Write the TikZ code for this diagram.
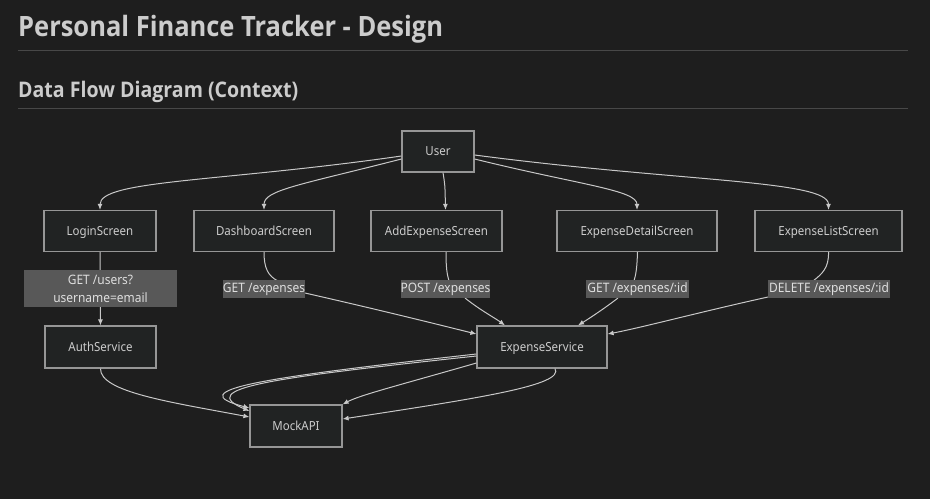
\documentclass[tikz,border=0pt]{standalone}
\usepackage{fontspec}
\setmainfont{Noto Sans}[FakeStretch=0.92]
\newfontfamily\headfont{Open Sans}[FakeStretch=0.91]
\usetikzlibrary{arrows.meta,positioning}
\definecolor{pfbg}{RGB}{30,30,30}
\definecolor{pfbox}{RGB}{33,35,35}
\definecolor{pfborder}{RGB}{150,150,150}
\definecolor{pfline}{RGB}{200,200,200}
\definecolor{pflabel}{RGB}{88,88,88}
\definecolor{pftext}{RGB}{204,204,204}
\definecolor{pflabeltext}{RGB}{222,222,222}
\definecolor{pfrule}{RGB}{72,72,72}
\tikzstyle{screen} = [rectangle, minimum height=41pt, inner sep=0pt, text height=8pt, text depth=0pt, text centered, draw=pfborder, fill=pfbox, line width=1.2pt, text=pftext, font=\fontsize{12.5}{14}\selectfont]
\tikzstyle{req} = [rectangle, minimum height=18pt, inner sep=0pt, text centered, fill=pflabel, text=pflabeltext, font=\fontsize{13}{18}\selectfont]
\tikzstyle{flow} = [draw=pfline, line width=1pt, -{Latex[length=6pt,width=5pt]}]
\tikzstyle{flowpart} = [draw=pfline, line width=1pt]

\begin{document}
\begin{tikzpicture}[x=1pt,y=-1pt]
\fill[pfbg] (0,0) rectangle (930,499);
\useasboundingbox (0,0) rectangle (930,499);

% Headings
\node[anchor=base west, inner sep=0pt, text=pftext, font=\headfont\bfseries\fontsize{28}{32}\selectfont] (title) at (18,36) {Personal Finance Tracker - Design};
\draw[pfrule, line width=1pt] (18,50) -- (908,50);
\node[anchor=base west, inner sep=0pt, text=pftext, font=\headfont\bfseries\fontsize{21.5}{24}\selectfont] (subtitle) at (18,97) {Data Flow Diagram (Context)};
\draw[pfrule, line width=1pt] (18,108) -- (908,108);

% User
\node[screen, minimum width=72pt] (user) at (438,151.5) {User};

% Screens
\node[screen, minimum width=112pt] (login) at (100,231) {LoginScreen};
\node[screen, minimum width=140pt] (dash) at (264,231) {DashboardScreen};
\node[screen, minimum width=131pt] (add) at (436.5,231) {AddExpenseScreen};
\node[screen, minimum width=160pt] (detail) at (637,231) {ExpenseDetailScreen};
\node[screen, minimum width=147pt] (list) at (828.5,231) {ExpenseListScreen};

% Services
\node[screen, minimum width=111pt, minimum height=42pt] (auth) at (100.5,347) {AuthService};
\node[screen, minimum width=130pt, minimum height=42pt] (es) at (542,347) {ExpenseService};
\node[screen, minimum width=92pt, minimum height=42pt] (mock) at (296,426) {MockAPI};

% User to screens
\draw[flow] ([yshift=-4.5pt]user.west) .. controls (220,182) and (100,180) .. (login.north);
\draw[flow] ([yshift=-7.5pt]user.west) .. controls (300,185) and (264,190) .. (dash.north);
\draw[flow] ([xshift=5pt]user.south) .. controls (445,185) .. ([xshift=9pt]add.north);
\draw[flow] ([yshift=-7.5pt]user.east) .. controls (580,185) and (637,190) .. (detail.north);
\draw[flow] ([yshift=-3.5pt]user.east) .. controls (680,182) and (828.5,180) .. (list.north);

% Requests
\draw[flow] (login.south) -- (auth.north);
\draw[flowpart] (dash.south) .. controls (264,268) and (268,276) .. (278,281);
\draw[flow] (305,293) .. controls (380,310) and (440,325) .. ([yshift=13pt]es.west);
\draw[flowpart] ([xshift=9.5pt]add.south) .. controls (446,268) and (447,274) .. (449,281);
\draw[flow] (465,298) .. controls (480,310) and (495,318) .. ([xshift=-37pt]es.north);
\draw[flowpart] ([xshift=0.5pt]detail.south) .. controls (637,268) and (636,274) .. (634,281);
\draw[flow] (618,298) .. controls (605,308) and (590,318) .. ([xshift=36pt]es.north);
\draw[flowpart] (list.south) .. controls (829,268) and (822,274) .. (813,281);
\draw[flow] (768,297) .. controls (700,312) and (640,328) .. ([yshift=13pt]es.east);

% To MockAPI
\draw[flow] (auth.south) .. controls (100,392) and (170,402) .. ([yshift=9pt]mock.west);
\draw[flow] ([yshift=-7pt]es.west) .. controls (260,378) and (180,390) .. ([yshift=18pt]mock.west);
\draw[flow] ([yshift=-9pt]es.west) .. controls (270,378) and (195,388) .. ([yshift=15pt]mock.west);
\draw[flow] ([yshift=-16pt]es.west) .. controls (400,385) and (360,395) .. (mock.north east);
\draw[flow] ([xshift=13pt]es.south) .. controls (565,385) and (480,398) .. ([yshift=7pt]mock.east);

% Request labels
\node[req, minimum width=153pt, minimum height=37pt, align=center] (lbllogin) at (100.5,288.5) {GET /users?\\username=email};
\node[req, minimum width=82pt] (lbldash) at (264,289) {GET /expenses};
\node[req, minimum width=87pt] (lbladd) at (445.5,289) {POST /expenses};
\node[req, minimum width=103pt] (lbldetail) at (637.5,289) {GET /expenses/:id};
\node[req, minimum width=122pt] (lbllist) at (829,289) {DELETE /expenses/:id};
\end{tikzpicture}
\end{document}
